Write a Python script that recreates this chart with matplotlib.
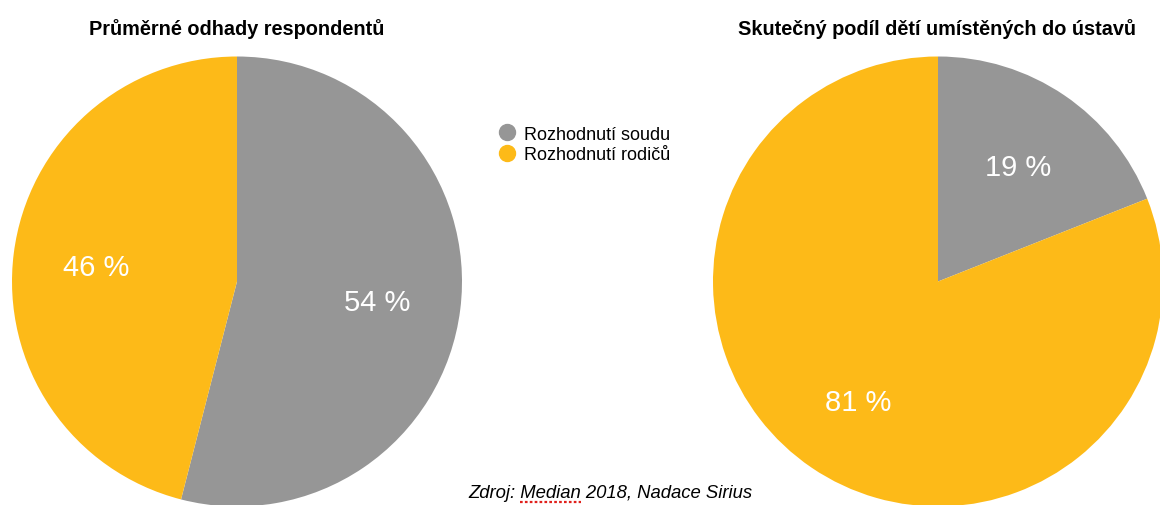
import matplotlib
matplotlib.use("Agg")
import matplotlib.pyplot as plt
from matplotlib.lines import Line2D

plt.rcParams['font.family'] = ['Liberation Sans', 'DejaVu Sans']

categories = ["Rozhodnutí soudu", "Rozhodnutí rodičů"]
estimate_values = [54, 46]
actual_values = [19, 81]
titles = ["Průměrné odhady respondentů", "Skutečný podíl dětí umístěných do ústavů"]
source_prefix = "Zdroj: "
source_word = "Median"
source_text = "Zdroj: Median 2018, Nadace Sirius"

colors = ["#969696", "#FDBA18"]

W, H = 1160, 506
fig = plt.figure(figsize=(W / 100, H / 100), dpi=100)

def pie_axes(cx, cy, r):
    return fig.add_axes([(cx - r) / W, (H - cy - r) / H, 2 * r / W, 2 * r / H])

R = 225
ax1 = pie_axes(237, 282.5, R)
ax2 = pie_axes(938, 282.5, R)

for ax, vals in ((ax1, estimate_values), (ax2, actual_values)):
    wedges, texts, autotexts = ax.pie(
        vals, colors=colors, startangle=90, counterclock=False,
        autopct=lambda p: f"{p:.0f} %", pctdistance=0.63,
        wedgeprops=dict(linewidth=0), textprops=dict(color="white", fontsize=21))
    for t in autotexts:
        t.set_va("center_baseline")
    ax.set_aspect("equal")
    ax.set_xlim(-1, 1)
    ax.set_ylim(-1, 1)
    ax.axis("off")

fig.text(237 / W, 1 - 29 / H, titles[0], ha="center", va="center",
         fontsize=14.3, fontweight="bold")
fig.text(937.5 / W, 1 - 29 / H, titles[1], ha="center", va="center",
         fontsize=14.3, fontweight="bold")

handles = [Line2D([0], [0], marker="o", linestyle="none", markersize=11.5,
                  markerfacecolor=c, markeredgecolor=c) for c in colors]
fig.legend(handles, categories, loc="upper left",
           bbox_to_anchor=(496 / W, 1 - 126.5 / H), frameon=False,
           fontsize=13, handletextpad=0.35, labelspacing=0.2,
           borderaxespad=0, borderpad=0, handlelength=1.2)

src = fig.text(610.5 / W, 1 - 494 / H, source_text, ha="center", va="center",
               fontsize=13.3, style="italic")

# red dotted spell-check underline under "Median"
fig.canvas.draw()
renderer = fig.canvas.get_renderer()
bb = src.get_window_extent(renderer)
tmp = fig.text(0, 0, source_prefix.rstrip(), fontsize=13.3, style="italic")
w_pre = tmp.get_window_extent(renderer).width
tmp.set_text(source_prefix.rstrip() + " " + source_word)
w_pre_word = tmp.get_window_extent(renderer).width
tmp.remove()
x0 = bb.x0 + w_pre + 4
x1 = bb.x0 + w_pre_word
y_line = 506 - 502.5
fig.add_artist(Line2D([x0 / W, x1 / W], [y_line / H, y_line / H],
                      transform=fig.transFigure, color="#E0201B",
                      linewidth=1.6, linestyle=(0, (1.2, 1.0))))

fig.savefig("out.png", dpi=100, facecolor="white")
